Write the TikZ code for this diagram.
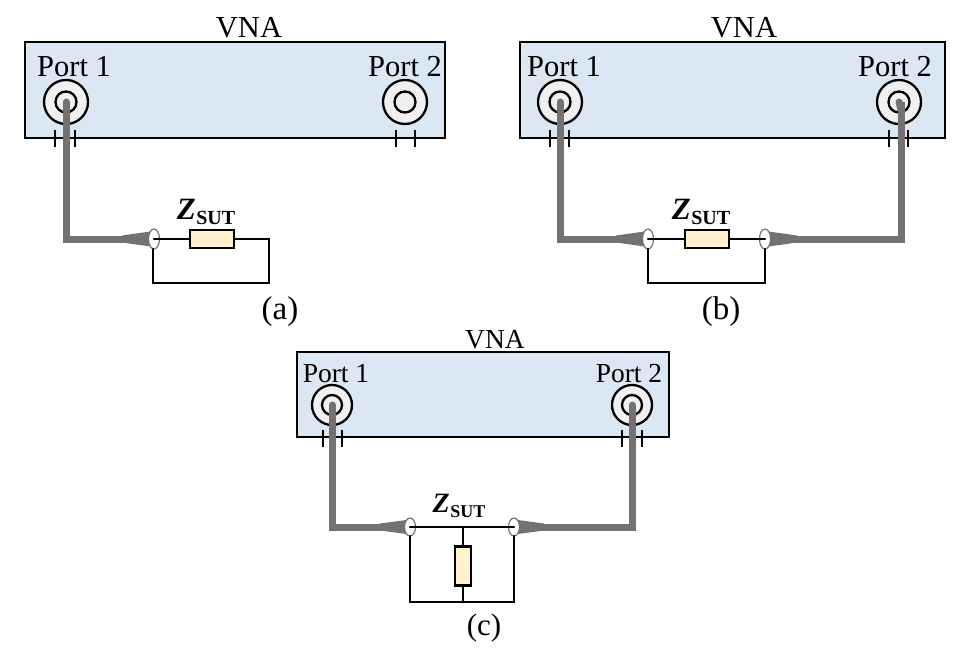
\documentclass[tikz,border=0pt]{standalone}
\usepackage{fontspec}
\setmainfont{Liberation Serif}
\usetikzlibrary{shapes.geometric,calc}
\definecolor{vnafill}{HTML}{DCE7F4}
\definecolor{resfill}{HTML}{FFF2CC}
\definecolor{cablecol}{HTML}{767171}
\definecolor{ringfill}{HTML}{F0F0F0}
\tikzset{
  vna/.style={draw=black,line width=2.3pt,fill=vnafill,anchor=north west,inner sep=0pt,outer sep=0pt,rectangle},
  lbl/.style={inner sep=0pt,font=\fontsize{30.5}{32}\selectfont},
  lblc/.style={inner sep=0pt,font=\fontsize{27.5}{29}\selectfont},
  caplabel/.style={inner sep=0pt,font=\fontsize{33}{34}\selectfont},
  caplabelc/.style={inner sep=0pt,font=\fontsize{31}{32}\selectfont},
  outer/.style={circle,draw=black,line width=2.3pt,fill=ringfill,inner sep=0pt,outer sep=0pt,minimum size=#1},
  inner/.style={circle,draw=black,line width=2.3pt,fill=ringfill,inner sep=0pt,outer sep=0pt,minimum size=#1},
  cable/.style={draw=cablecol,line width=7pt,line join=miter},
  cabletip/.style={line width=7pt,draw=cablecol,line cap=round},
  taper/.style={fill=cablecol,draw=none},
  wire/.style={draw=black,line width=2.5pt,line cap=round},
  tick/.style={draw=black,line width=2pt},
  res/.style={rectangle,draw=black,line width=2.5pt,fill=resfill,inner sep=0pt,outer sep=0pt},
  plug/.style={ellipse,draw=cablecol,line width=1.2pt,fill=white,inner sep=0pt,outer sep=0pt,minimum width=11pt,minimum height=#1},
  zlabel/.style={inner sep=0pt}
}
\newcommand{\zsut}{{\fontsize{31}{31}\selectfont\bfseries\itshape Z\kern0.02em\raisebox{-0.18em}{\fontsize{20}{20}\selectfont\upshape SUT}}}
\newcommand{\zsutc}{{\fontsize{28}{28}\selectfont\bfseries\itshape Z\kern0.02em\raisebox{-0.18em}{\fontsize{18}{18}\selectfont\upshape SUT}}}
\newcommand{\vticks}[4]{\draw[tick] (#1,#3) -- (#1,#4); \draw[tick] (#2,#3) -- (#2,#4);}
\begin{document}
\begin{tikzpicture}[x=1pt,y=-1pt]
\useasboundingbox (0,0) rectangle (959,650);
% ---------- panel a
\node[vna,minimum width=420pt,minimum height=96pt] (boxa) at (25,42) {};
\node[lbl] (vnaa) at (249,28) {VNA};
\node[lbl] (pa1) at (74,67) {Port 1};
\node[lbl] (pa2) at (405,67) {Port 2};
\node[outer=44pt] (oa1) at (66,102) {};
\node[inner=21pt] (ia1) at (66,102) {};
\node[outer=44pt] (oa2) at (405,102) {};
\node[inner=21pt] (ia2) at (405,102) {};
\vticks{55}{75}{130}{147}
\vticks{396}{415}{130}{147}
\node[res,minimum width=44pt,minimum height=18pt] (ra) at (212,239) {};
\coordinate (ca0) at (154,239);
\coordinate (ca1) at (66,239);
\coordinate (ca2) at (269,283);
\coordinate (ca3) at (153,283);
\draw[cabletip] (ia1.center) -- (66,110);
\draw[cable] (ia1.center) -- (ca1) -- ($(ca0)+(-30,0)$);
\fill[taper] ($(ca0)+(-32,-3.5)$) -- ($(ca0)+(0,-8)$) -- ($(ca0)+(0,8)$) -- ($(ca0)+(-32,3.5)$) -- cycle;
\node[plug=20pt] (ea1) at (ca0) {};
\draw[wire] (ea1.center) -- (ra.west);
\draw[wire] (ra.east) -| (ca2) -- (ca3) -- (153,249);
\node[zlabel] (za) at (206,212) {\zsut};
\node[caplabel] (capa) at (280,312) {(a)};
% ---------- panel b
\node[vna,minimum width=425pt,minimum height=96pt] (boxb) at (520,42) {};
\node[lbl] (vnab) at (744,28) {VNA};
\node[lbl] (pb1) at (564,67) {Port 1};
\node[lbl] (pb2) at (895,67) {Port 2};
\node[outer=44pt] (ob1) at (560,102) {};
\node[inner=21pt] (ib1) at (560,102) {};
\node[outer=44pt] (ob2) at (899,102) {};
\node[inner=21pt] (ib2) at (899,102) {};
\vticks{550}{569}{130}{147}
\vticks{889}{908}{130}{147}
\node[res,minimum width=44pt,minimum height=18pt] (rb) at (707,239) {};
\coordinate (cb1) at (560,239);
\coordinate (cb2) at (901,239);
\coordinate (cb3) at (765,283);
\coordinate (cb4) at (648,283);
\draw[cabletip] (ib1.center) -- (560,110);
\draw[cabletip] (ib2.center) -- (901,110);
\draw[cable] (ib1.center) -- (cb1) -- (620,239);
\draw[cable] (901,102) -- (cb2) -- (795,239);
\fill[taper] (616,235.5) -- (648,231) -- (648,247) -- (616,242.5) -- cycle;
\fill[taper] (797,235.5) -- (765,231) -- (765,247) -- (797,242.5) -- cycle;
\node[plug=20pt] (eb1) at (648,239) {};
\node[plug=20pt] (eb2) at (765,239) {};
\draw[wire] (eb1.center) -- (rb.west);
\draw[wire] (rb.east) -- (eb2.center);
\draw[wire] (eb2.south) -- (cb3) -- (cb4) -- (eb1.south);
\node[zlabel] (zb) at (701,212) {\zsut};
\node[caplabel] (capb) at (721,312) {(b)};
% ---------- panel c
\node[vna,minimum width=372pt,minimum height=85pt] (boxc) at (297,352) {};
\node[lblc] (vnac) at (495,340) {VNA};
\node[lblc] (pc1) at (336,374) {Port 1};
\node[lblc] (pc2) at (629,374) {Port 2};
\node[outer=40pt] (oc1) at (332,405) {};
\node[inner=20pt] (ic1) at (332,405) {};
\node[outer=40pt] (oc2) at (632,405) {};
\node[inner=20pt] (ic2) at (632,405) {};
\vticks{323}{342}{430}{447}
\vticks{622}{642}{430}{447}
\node[res,minimum width=16pt,minimum height=39pt] (rc) at (463,566) {};
\coordinate (cc1) at (332,527);
\coordinate (cc2) at (632,527);
\coordinate (cc3) at (463,527);
\coordinate (cc4) at (514,602);
\coordinate (cc5) at (410,602);
\coordinate (cc6) at (463,602);
\draw[cabletip] (ic1.center) -- (332,413);
\draw[cabletip] (ic2.center) -- (632,413);
\draw[cable] (ic1.center) -- (cc1) -- (382,527);
\draw[cable] (ic2.center) -- (cc2) -- (542,527);
\fill[taper] (380,523.5) -- (410,519.5) -- (410,534.5) -- (380,530.5) -- cycle;
\fill[taper] (544,523.5) -- (514,519.5) -- (514,534.5) -- (544,530.5) -- cycle;
\node[plug=18pt] (ec1) at (410,527) {};
\node[plug=18pt] (ec2) at (514,527) {};
\draw[wire] (ec1.center) -- (ec2.center);
\draw[wire] (cc3) -- (rc.north);
\draw[wire] (rc.south) -- (cc6);
\draw[wire] (ec2.south) -- (cc4) -- (cc5) -- (ec1.south);
\node[zlabel] (zc) at (459,506) {\zsutc};
\node[caplabelc] (capc) at (484,628) {(c)};
\end{tikzpicture}
\end{document}
